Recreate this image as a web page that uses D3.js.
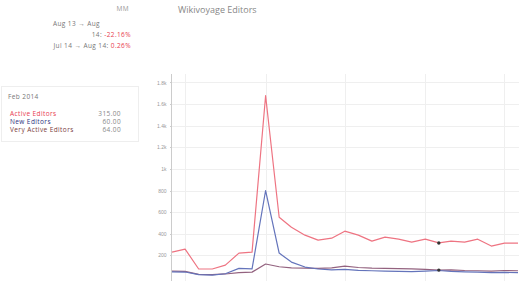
<!DOCTYPE html>
<html>
<head>
<meta charset="utf-8">
<style>
body{margin:0;background:#fff;font-family:"Open Sans",sans-serif;color:#666;}
svg{display:block;}
.grid line{stroke:#efefef;stroke-width:1;shape-rendering:crispEdges;}
.axis path,.axis line{fill:none;stroke:#ccc;shape-rendering:crispEdges;}
.axis text{font-size:5px;fill:#999;}
.line{fill:none;stroke-width:1.2;stroke-linejoin:round;}
.small{font-size:6.5px;letter-spacing:0.4px;}
</style>
</head>
<body>
<svg id="chart"></svg>
<script src="https://cdn.jsdelivr.net/npm/d3@7"></script>
<script>
var months = ["2012-06","2012-07","2012-08","2012-09","2012-10","2012-11","2012-12",
  "2013-01","2013-02","2013-03","2013-04","2013-05","2013-06","2013-07","2013-08",
  "2013-09","2013-10","2013-11","2013-12","2014-01","2014-02","2014-03","2014-04",
  "2014-05","2014-06","2014-07","2014-08"];
var activeEditors = [230,258,74,74,110,221,230,1677,553,461,387,341,359,424,387,332,369,350,323,350,315,332,323,350,286,313,313];
var newEditors = [48,46,22,18,30,80,75,800,221,138,92,74,65,70,62,58,55,52,50,55,60,52,48,45,40,42,40];
var veryActiveEditors = [55,52,25,22,28,40,45,120,95,85,82,80,85,100,88,82,80,78,75,70,64,66,60,58,55,60,58];
var seriesNames = ["Active Editors","New Editors","Very Active Editors"];
var seriesColors = ["#ee7482","#6474bb","#93627f"];
var legendColors = ["#e8394d","#2b2f7c","#7a3b3b"];
var yTicks = [200,400,600,800,1000,1200,1400,1600,1800];
var hoverMonth = "2014-02";

var W = 519, H = 281;
var svg = d3.select("#chart").attr("width", W).attr("height", H);
var parse = d3.timeParse("%Y-%m");
var dates = months.map(parse);

var x = d3.scaleTime().domain(d3.extent(dates)).range([172, 518]);
var y = d3.scaleLinear().domain([0, 1850]).range([277, 77]);

// grid
var grid = svg.append("g").attr("class", "grid");
grid.selectAll(".h").data(yTicks).enter().append("line")
  .attr("x1", 172).attr("x2", W).attr("y1", function(d){ return Math.round(y(d)) + 0.5; })
  .attr("y2", function(d){ return Math.round(y(d)) + 0.5; });
grid.selectAll(".v").data(x.ticks(d3.timeMonth.every(6))).enter().append("line")
  .attr("x1", function(d){ return Math.round(x(d)) + 0.5; })
  .attr("x2", function(d){ return Math.round(x(d)) + 0.5; })
  .attr("y1", 74).attr("y2", H);

// y axis
svg.append("g").attr("class", "axis")
  .attr("transform", "translate(171.5,0)")
  .call(d3.axisLeft(y).tickValues(yTicks).tickSize(2).tickPadding(3).tickFormat(d3.format("~s")))
  .call(function(g){ g.select(".domain").attr("d", "M0,74V" + H); });

// lines
var allSeries = [activeEditors, newEditors, veryActiveEditors];
var line = d3.line().x(function(d, i){ return x(dates[i]); }).y(function(d){ return y(d); });
[2,1,0].forEach(function(k){
  svg.append("path").datum(allSeries[k]).attr("class", "line")
    .attr("stroke", seriesColors[k]).attr("d", line);
});

// hover dots
var hi = months.indexOf(hoverMonth);
[activeEditors, veryActiveEditors].forEach(function(s){
  svg.append("circle").attr("cx", x(dates[hi])).attr("cy", y(s[hi])).attr("r", 1.7).attr("fill", "#333");
});

// title and summary
svg.append("text").attr("x", 178).attr("y", 13).attr("font-size", 9).attr("fill", "#888").text("Wikivoyage Editors");
svg.append("text").attr("class", "small").attr("x", 129).attr("y", 11).attr("fill", "#999").attr("text-anchor", "end").text("MM");
svg.append("text").attr("class", "small").attr("x", 100).attr("y", 26).attr("fill", "#777").attr("text-anchor", "end").text("Aug 13 \u2192 Aug");
var t2 = svg.append("text").attr("class", "small").attr("x", 131).attr("y", 37).attr("fill", "#777").attr("text-anchor", "end");
t2.append("tspan").text("14: ");
t2.append("tspan").attr("fill", "#e8394d").text("-22.16%");
var t3 = svg.append("text").attr("class", "small").attr("x", 131).attr("y", 48).attr("fill", "#777").attr("text-anchor", "end");
t3.append("tspan").text("Jul 14 \u2192 Aug 14: ");
t3.append("tspan").attr("fill", "#e8394d").text("0.26%");

// legend box
var lg = svg.append("g");
lg.append("rect").attr("x", 1.5).attr("y", 86.5).attr("width", 137).attr("height", 55)
  .attr("fill", "#fff").attr("stroke", "#eee");
lg.append("text").attr("class", "small").attr("x", 8).attr("y", 99).attr("fill", "#777").text("Feb 2014");
var fmt = d3.format(".2f");
seriesNames.forEach(function(n, k){
  var yy = 116 + k * 8;
  lg.append("text").attr("class", "small").attr("x", 10).attr("y", yy).attr("fill", legendColors[k]).text(n);
  lg.append("text").attr("class", "small").attr("x", 121).attr("y", yy).attr("fill", "#888")
    .attr("text-anchor", "end").text(fmt(allSeries[k][hi]));
});
</script>
</body>
</html>
